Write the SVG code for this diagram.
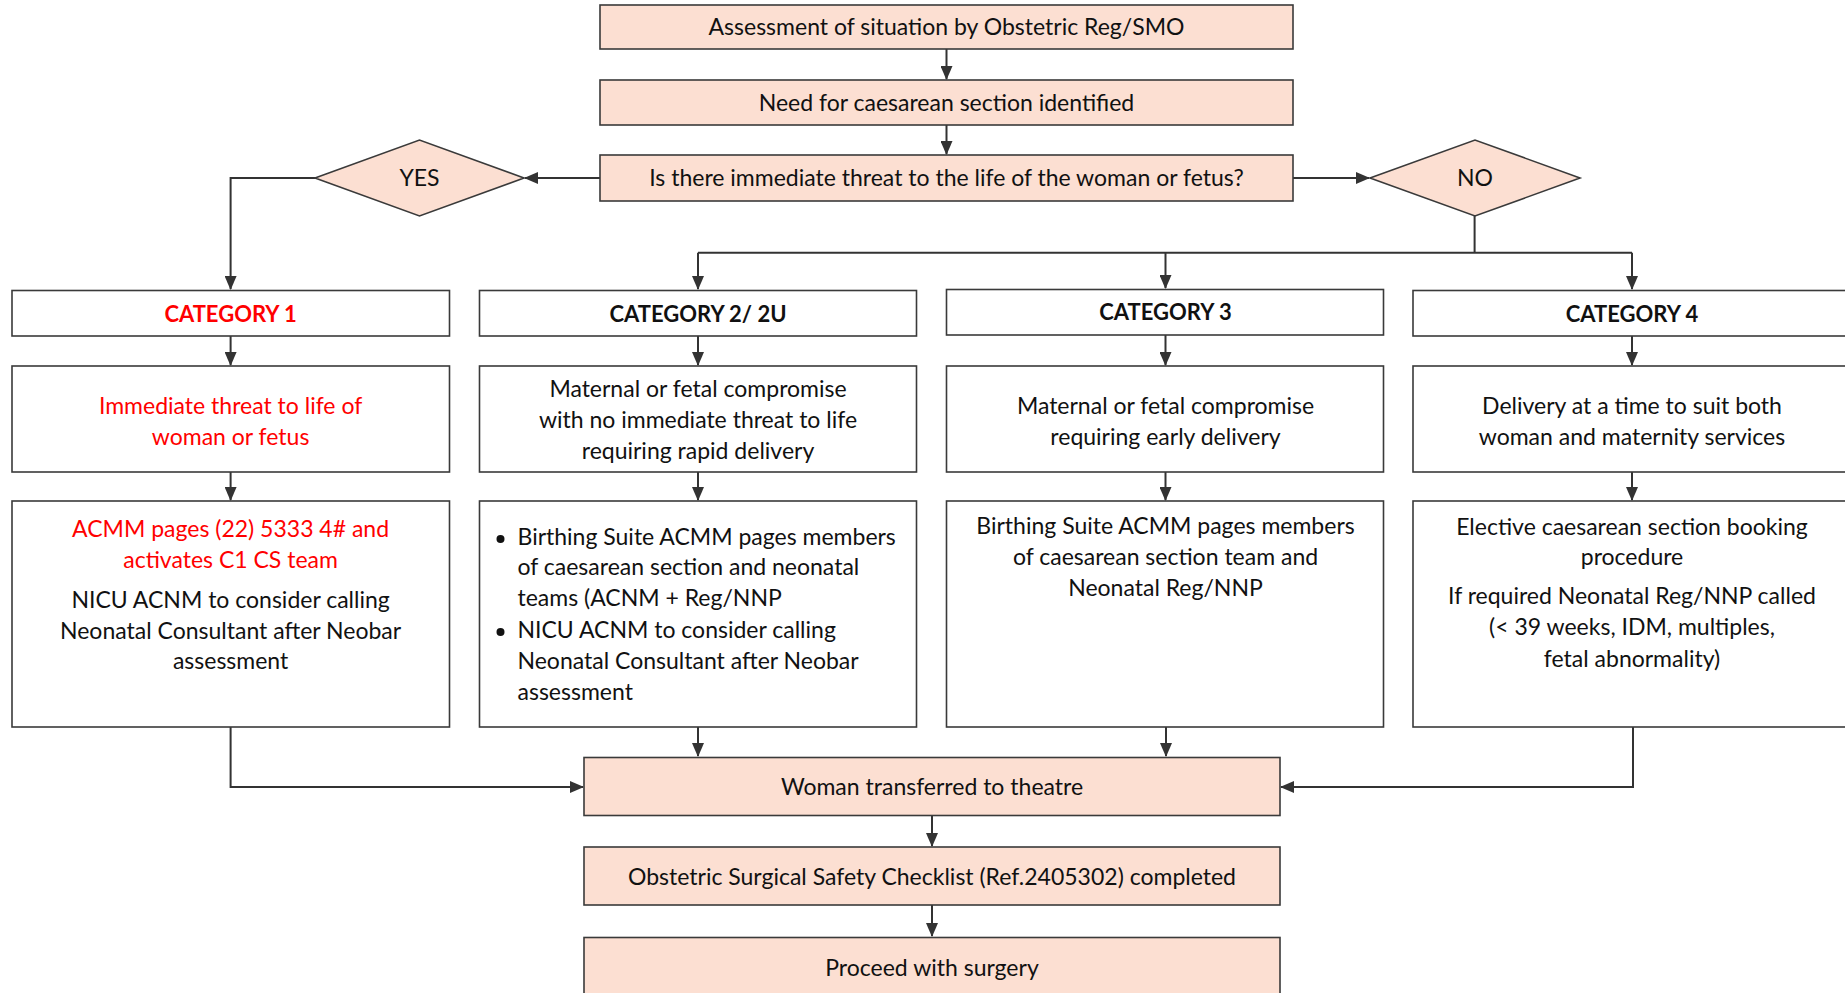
<svg xmlns="http://www.w3.org/2000/svg" width="1845" height="993" viewBox="0 0 1845 993">
<defs>
<style>
.p{fill:#FCDFD2;stroke:#3a3a3a;stroke-width:1.6}
.w{fill:#fff;stroke:#3a3a3a;stroke-width:1.6}
.t{font-family:Lato,"Open Sans",sans-serif;font-size:23px;fill:#111;text-anchor:middle}
.l{text-anchor:start}
.r{fill:#ff0000}
.b{font-weight:bold;font-size:22px}
.c{fill:none;stroke:#333;stroke-width:2}
</style>
<marker id="a" markerWidth="14" markerHeight="12" refX="13" refY="6" orient="auto" markerUnits="userSpaceOnUse">
<path d="M0,0 L14,6 L0,12 Z" fill="#333"/>
</marker>
</defs>
<rect width="1845" height="993" fill="#fff"/>
<g id="connectors">
<path class="c" d="M946.5,49 V79" marker-end="url(#a)"/>
<path class="c" d="M946.5,125 V154" marker-end="url(#a)"/>
<path class="c" d="M600,178 H525" marker-end="url(#a)"/>
<path class="c" d="M1293,178 H1369" marker-end="url(#a)"/>
<path class="c" d="M315,178 H230.6 V289" marker-end="url(#a)"/>
<path class="c" d="M1474.6,216 V252.7"/>
<path class="c" d="M698,252.7 H1632"/>
<path class="c" d="M698,252.7 V289" marker-end="url(#a)"/>
<path class="c" d="M1165.5,252.7 V288" marker-end="url(#a)"/>
<path class="c" d="M1632,252.7 V289" marker-end="url(#a)"/>
<path class="c" d="M230.6,336 V365" marker-end="url(#a)"/>
<path class="c" d="M698,336 V365" marker-end="url(#a)"/>
<path class="c" d="M1165.5,335 V365" marker-end="url(#a)"/>
<path class="c" d="M1632,336 V365" marker-end="url(#a)"/>
<path class="c" d="M230.6,472 V500" marker-end="url(#a)"/>
<path class="c" d="M698,472 V500" marker-end="url(#a)"/>
<path class="c" d="M1165.5,472 V500" marker-end="url(#a)"/>
<path class="c" d="M1632,472 V500" marker-end="url(#a)"/>
<path class="c" d="M230.6,727 V787 H583" marker-end="url(#a)"/>
<path class="c" d="M698,727 V756" marker-end="url(#a)"/>
<path class="c" d="M1166,727 V756" marker-end="url(#a)"/>
<path class="c" d="M1633,727 V787 H1281" marker-end="url(#a)"/>
<path class="c" d="M932,816 V846" marker-end="url(#a)"/>
<path class="c" d="M932,905 V936" marker-end="url(#a)"/>
</g>
<g id="n-assess"><rect class="p" x="600" y="5" width="693" height="44"/><text class="t" x="946.5" y="35">Assessment of situation by Obstetric Reg/SMO</text></g>
<g id="n-need"><rect class="p" x="600" y="80" width="693" height="45"/><text class="t" x="946.5" y="111">Need for caesarean section identified</text></g>
<g id="n-threat"><rect class="p" x="600" y="155" width="693" height="46"/><text class="t" x="946.5" y="186">Is there immediate threat to the life of the woman or fetus?</text></g>
<g id="n-yes"><polygon class="p" points="315,178 419.5,140 524,178 419.5,216"/><text class="t" x="419.5" y="186">YES</text></g>
<g id="n-no"><polygon class="p" points="1370,178 1475,140 1580,178 1475,216"/><text class="t" x="1475" y="186">NO</text></g>

<g id="n-cat1"><rect class="w" x="12" y="290.5" width="437.5" height="45.5"/><text class="t b r" x="230.6" y="322">CATEGORY 1</text></g>
<g id="n-cat2"><rect class="w" x="479.5" y="290.5" width="437" height="45.5"/><text class="t b" x="698" y="322">CATEGORY 2/ 2U</text></g>
<g id="n-cat3"><rect class="w" x="946.5" y="289.5" width="437" height="45.5"/><text class="t b" x="1165.5" y="320">CATEGORY 3</text></g>
<g id="n-cat4"><rect class="w" x="1413" y="290.5" width="440" height="45.5"/><text class="t b" x="1632" y="322">CATEGORY 4</text></g>

<g id="n-desc1"><rect class="w" x="12" y="366" width="437.5" height="106"/><text class="t r" x="230.6" y="414">Immediate threat to life of</text><text class="t r" x="230.6" y="445">woman or fetus</text></g>
<g id="n-desc2"><rect class="w" x="479.5" y="366" width="437" height="106"/><text class="t" x="698" y="397">Maternal or fetal compromise</text><text class="t" x="698" y="428">with no immediate threat to life</text><text class="t" x="698" y="459">requiring rapid delivery</text></g>
<g id="n-desc3"><rect class="w" x="946.5" y="366" width="437" height="106"/><text class="t" x="1165.5" y="414">Maternal or fetal compromise</text><text class="t" x="1165.5" y="445">requiring early delivery</text></g>
<g id="n-desc4"><rect class="w" x="1413" y="366" width="440" height="106"/><text class="t" x="1632" y="414">Delivery at a time to suit both</text><text class="t" x="1632" y="445">woman and maternity services</text></g>

<g id="n-act1"><rect class="w" x="12" y="501" width="437.5" height="226"/>
<text class="t r" x="230.6" y="537">ACMM pages (22) 5333 4# and</text>
<text class="t r" x="230.6" y="568">activates C1 CS team</text>
<text class="t" x="230.6" y="608">NICU ACNM to consider calling</text>
<text class="t" x="230.6" y="639">Neonatal Consultant after Neobar</text>
<text class="t" x="230.6" y="669">assessment</text></g>
<g id="n-act2"><rect class="w" x="479.5" y="501" width="437" height="226"/>
<circle cx="500.5" cy="539" r="4" fill="#111"/>
<text class="t l" x="517.5" y="545">Birthing Suite ACMM pages members</text>
<text class="t l" x="517.5" y="575">of caesarean section and neonatal</text>
<text class="t l" x="517.5" y="606">teams (ACNM + Reg/NNP</text>
<circle cx="500.5" cy="632" r="4" fill="#111"/>
<text class="t l" x="517.5" y="638">NICU ACNM to consider calling</text>
<text class="t l" x="517.5" y="669">Neonatal Consultant after Neobar</text>
<text class="t l" x="517.5" y="700">assessment</text></g>
<g id="n-act3"><rect class="w" x="946.5" y="501" width="437" height="226"/>
<text class="t" x="1165.5" y="534">Birthing Suite ACMM pages members</text>
<text class="t" x="1165.5" y="565">of caesarean section team and</text>
<text class="t" x="1165.5" y="596">Neonatal Reg/NNP</text></g>
<g id="n-act4"><rect class="w" x="1413" y="501" width="440" height="226"/>
<text class="t" x="1632" y="535">Elective caesarean section booking</text>
<text class="t" x="1632" y="565">procedure</text>
<text class="t" x="1632" y="604">If required Neonatal Reg/NNP called</text>
<text class="t" x="1632" y="635">(&lt; 39 weeks, IDM, multiples,</text>
<text class="t" x="1632" y="667">fetal abnormality)</text></g>

<g id="n-transfer"><rect class="p" x="584" y="757.5" width="696" height="58"/><text class="t" x="932" y="795">Woman transferred to theatre</text></g>
<g id="n-checklist"><rect class="p" x="584" y="847" width="696" height="58"/><text class="t" x="932" y="885">Obstetric Surgical Safety Checklist (Ref.2405302) completed</text></g>
<g id="n-proceed"><rect class="p" x="584" y="937.5" width="696" height="60"/><text class="t" x="932" y="976">Proceed with surgery</text></g>
</svg>
